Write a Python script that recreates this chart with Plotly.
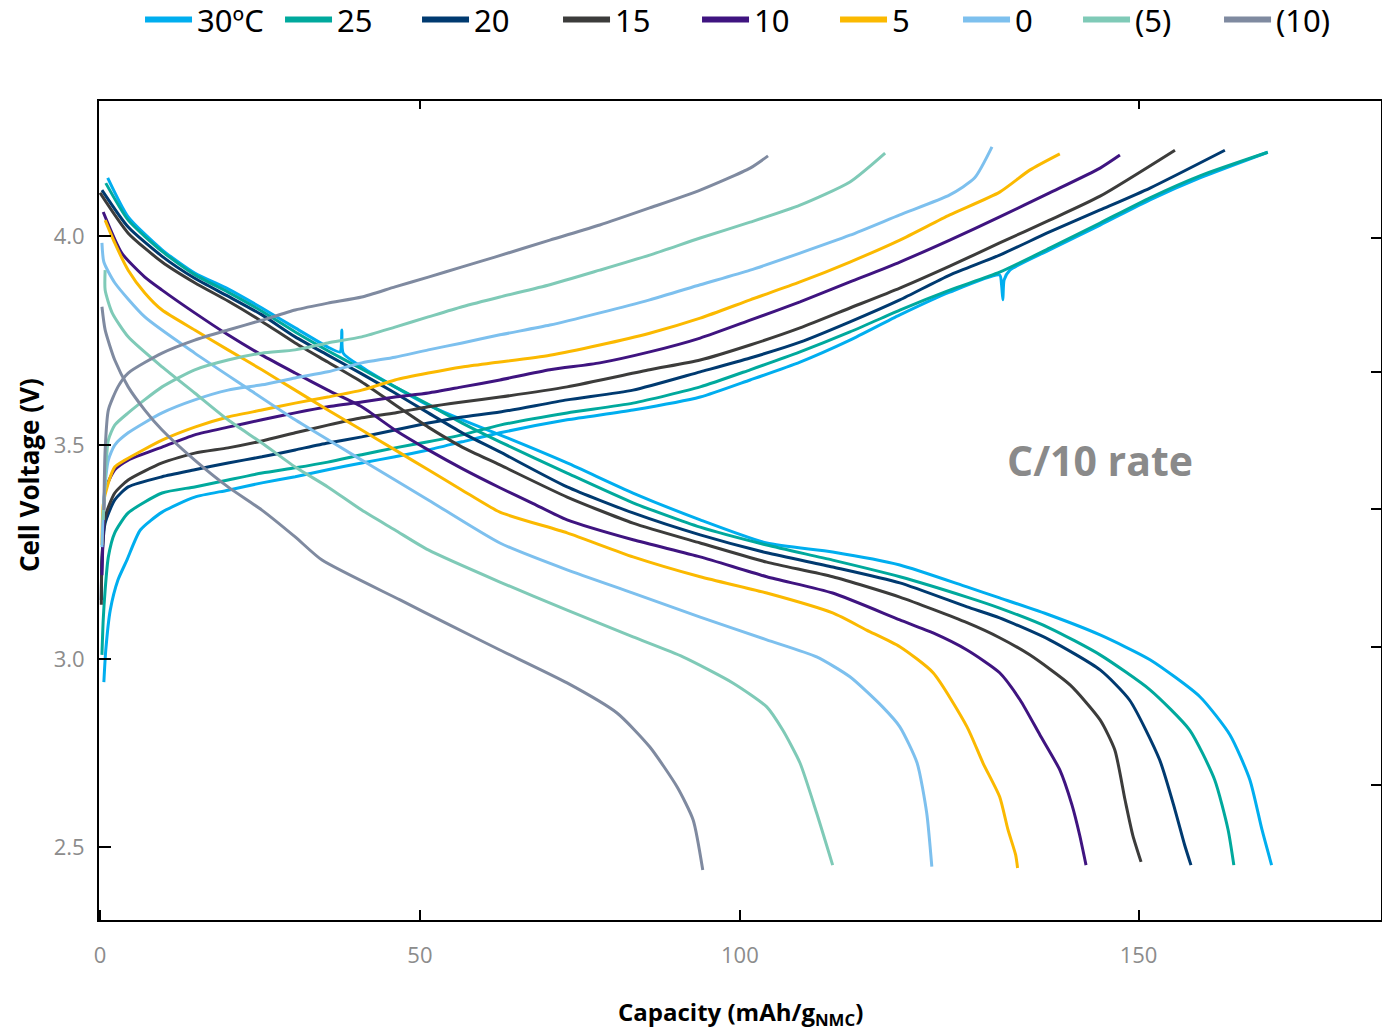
import plotly.graph_objects as go

# ---- legend labels (cell temperature) and line colours ----
TEMPS = ["30ºC", "25", "20", "15", "10", "5", "0", "(5)", "(10)"]
COLORS = ["#00AEEF", "#00A99D", "#003A70", "#3C3C3B", "#3F1480",
          "#FBB900", "#7DC0EE", "#7FCAB7", "#7F8AA0"]
# text-area width of each legend entry (px)
LEGEND_WIDTHS = [78, 75, 79, 77, 76, 61, 58, 79, 77]

# ---- discharge branches: capacity (mAh/g) and cell voltage (V) ----
D30_Q = [1.2, 4.4, 9.7, 14.8, 20.0, 25.3, 30.5, 35.6, 37.5, 37.8, 38.0, 40.9, 46.1, 51.3, 56.6, 62.5,
         73.0, 83.3, 93.8, 104.2, 114.5, 125.0, 135.5, 140.6, 148.4, 156.3, 164.1, 171.9, 176.6,
         179.7, 181.6, 183.1]
D30_V = [4.143, 4.047, 3.966, 3.909, 3.870, 3.823, 3.774, 3.727, 3.715, 3.769, 3.712, 3.678, 3.629,
         3.584, 3.548, 3.511, 3.442, 3.368, 3.302, 3.245, 3.223, 3.191, 3.137, 3.110, 3.068, 3.019,
         2.958, 2.867, 2.773, 2.663, 2.540, 2.453]

D25_Q = [0.9, 4.4, 9.7, 14.8, 20.0, 25.3, 30.5, 35.6, 40.9, 46.1, 51.3, 56.6, 62.5, 73.0, 83.3,
         93.8, 104.2, 114.5, 125.0, 135.5, 140.6, 148.4, 156.3, 164.1, 170.3, 174.2, 176.3, 177.2]
D25_V = [4.130, 4.039, 3.962, 3.905, 3.862, 3.815, 3.764, 3.718, 3.673, 3.629, 3.586, 3.540, 3.494,
         3.417, 3.344, 3.284, 3.240, 3.203, 3.162, 3.112, 3.085, 3.036, 2.970, 2.884, 2.785, 2.663,
         2.540, 2.453]

D20_Q = [0.3, 4.4, 9.7, 14.8, 20.0, 25.3, 30.5, 35.6, 40.9, 46.1, 51.3, 56.6, 62.5, 73.0, 83.3,
         93.8, 104.2, 114.5, 125.0, 135.5, 140.6, 148.4, 156.3, 160.9, 165.6, 168.0, 169.5, 170.5]
D20_V = [4.113, 4.022, 3.950, 3.896, 3.852, 3.806, 3.752, 3.707, 3.661, 3.614, 3.565, 3.516, 3.469,
         3.383, 3.319, 3.265, 3.221, 3.186, 3.147, 3.088, 3.061, 3.007, 2.933, 2.859, 2.712, 2.589,
         2.503, 2.453]

D15_Q = [0.0, 4.4, 9.7, 14.8, 20.0, 25.3, 30.5, 35.6, 40.9, 46.1, 51.3, 56.6, 62.5, 73.0, 83.3,
         93.8, 104.2, 114.5, 125.0, 135.5, 140.6, 145.3, 151.6, 156.3, 158.6, 160.2, 161.4, 162.7]
D15_V = [4.106, 4.007, 3.936, 3.885, 3.840, 3.790, 3.737, 3.690, 3.641, 3.585, 3.530, 3.481, 3.437,
         3.358, 3.294, 3.245, 3.198, 3.162, 3.112, 3.049, 3.012, 2.970, 2.896, 2.810, 2.736, 2.613,
         2.527, 2.461]

D10_Q = [0.5, 3.4, 7.0, 9.7, 14.8, 20.0, 25.3, 30.5, 35.6, 40.9, 46.1, 51.3, 56.6, 62.5, 67.7, 73.0,
         83.3, 93.8, 104.2, 114.5, 125.0, 130.2, 135.5, 140.6, 143.8, 146.9, 150.0, 151.9, 153.1, 154.1]
D10_V = [4.059, 3.958, 3.899, 3.867, 3.811, 3.757, 3.707, 3.663, 3.621, 3.580, 3.523, 3.474, 3.428,
         3.381, 3.342, 3.302, 3.253, 3.211, 3.162, 3.122, 3.056, 3.024, 2.982, 2.926, 2.859, 2.773,
         2.687, 2.601, 2.527, 2.453]

D5_Q = [0.8, 2.3, 4.4, 7.0, 9.7, 14.8, 20.0, 25.3, 30.5, 35.6, 40.9, 46.1, 51.3, 56.6, 62.5, 73.0,
        83.3, 93.8, 104.2, 114.5, 119.8, 125.0, 130.2, 135.5, 138.0, 140.6, 141.9, 143.1, 143.4]
D5_V = [4.039, 3.983, 3.916, 3.860, 3.818, 3.769, 3.720, 3.671, 3.621, 3.572, 3.523, 3.474, 3.425,
        3.375, 3.321, 3.270, 3.211, 3.162, 3.122, 3.073, 3.031, 2.990, 2.926, 2.793, 2.704, 2.621,
        2.540, 2.478, 2.446]

D0_Q = [0.3, 0.6, 2.3, 7.0, 14.8, 22.7, 30.5, 40.9, 51.3, 62.5, 73.0, 83.3, 93.8, 104.2, 112.0,
        117.2, 122.3, 125.0, 127.7, 129.2, 130.0]
D0_V = [3.983, 3.936, 3.885, 3.801, 3.712, 3.629, 3.548, 3.449, 3.351, 3.245, 3.179, 3.122, 3.063,
        3.007, 2.965, 2.916, 2.842, 2.793, 2.704, 2.581, 2.449]

DM5_Q = [0.8, 0.8, 1.9, 4.4, 9.7, 14.8, 20.0, 25.3, 30.5, 35.6, 40.9, 46.1, 51.3, 62.5, 73.0, 83.3,
         91.1, 98.9, 104.2, 106.7, 109.4, 112.0, 114.5]
DM5_V = [3.916, 3.867, 3.811, 3.752, 3.678, 3.614, 3.548, 3.491, 3.432, 3.383, 3.326, 3.277, 3.228,
         3.149, 3.080, 3.014, 2.965, 2.901, 2.842, 2.785, 2.704, 2.581, 2.453]

DM10_Q = [0.3, 0.8, 2.3, 4.4, 7.0, 9.7, 14.8, 20.0, 25.3, 30.5, 34.7, 46.9, 54.7, 62.5, 73.0, 80.8,
          85.9, 90.2, 92.7, 94.2]
DM10_V = [3.826, 3.769, 3.695, 3.629, 3.572, 3.523, 3.449, 3.383, 3.326, 3.260, 3.203, 3.105, 3.043,
          2.982, 2.901, 2.827, 2.744, 2.645, 2.564, 2.441]

# ---- charge branches: capacity (mAh/g) and cell voltage (V) ----
C30_Q = [0.6, 0.9, 1.6, 2.8, 4.2, 6.3, 9.7, 14.8, 20.0, 25.3, 30.5, 35.6, 40.9, 46.1, 51.3, 56.6,
         62.5, 73.0, 83.3, 93.8, 101.6, 109.4, 117.2, 125.0, 132.8, 140.6, 140.9, 141.1, 141.3,
         142.2, 148.4, 156.3, 164.1, 171.9, 182.5]
C30_V = [2.903, 2.982, 3.080, 3.154, 3.203, 3.277, 3.321, 3.358, 3.375, 3.393, 3.408, 3.425, 3.442,
         3.457, 3.474, 3.494, 3.516, 3.548, 3.572, 3.604, 3.646, 3.690, 3.744, 3.806, 3.862, 3.904,
         3.880, 3.843, 3.892, 3.916, 3.966, 4.027, 4.089, 4.143, 4.206]

C25_Q = [0.3, 0.5, 0.8, 1.3, 2.3, 4.4, 9.7, 14.8, 20.0, 25.3, 30.5, 35.6, 40.9, 46.1, 51.3, 56.6,
         62.5, 73.0, 83.3, 93.8, 101.6, 109.4, 117.2, 125.0, 132.8, 140.6, 148.4, 156.3, 164.1,
         171.9, 182.5]
C25_V = [2.970, 3.056, 3.130, 3.211, 3.270, 3.319, 3.368, 3.383, 3.400, 3.417, 3.430, 3.444, 3.462,
         3.479, 3.494, 3.511, 3.535, 3.565, 3.589, 3.629, 3.671, 3.715, 3.764, 3.818, 3.867, 3.911,
         3.970, 4.032, 4.094, 4.148, 4.206]

C20_Q = [0.2, 0.3, 0.8, 2.3, 4.4, 9.7, 14.8, 20.0, 25.3, 30.5, 35.6, 40.9, 46.1, 51.3, 56.6, 62.5,
         73.0, 83.3, 93.8, 101.6, 109.4, 117.2, 125.0, 132.8, 140.6, 148.4, 156.3, 164.1, 175.8]
C20_V = [3.105, 3.203, 3.294, 3.351, 3.383, 3.408, 3.425, 3.442, 3.457, 3.474, 3.491, 3.506, 3.523,
         3.540, 3.555, 3.567, 3.597, 3.621, 3.666, 3.700, 3.739, 3.789, 3.843, 3.904, 3.953, 4.010,
         4.064, 4.118, 4.211]

C15_Q = [0.2, 0.3, 0.8, 2.3, 4.4, 9.7, 14.8, 20.0, 25.3, 30.5, 35.6, 40.9, 46.1, 51.3, 56.6, 62.5,
         73.0, 85.9, 93.8, 101.6, 109.4, 117.2, 125.0, 132.8, 140.6, 148.4, 156.3, 168.0]
C15_V = [3.093, 3.203, 3.309, 3.368, 3.400, 3.442, 3.466, 3.479, 3.496, 3.516, 3.535, 3.553, 3.565,
         3.580, 3.592, 3.604, 3.629, 3.671, 3.695, 3.732, 3.774, 3.823, 3.872, 3.926, 3.983, 4.039,
         4.098, 4.211]

C10_Q = [0.3, 0.5, 0.8, 2.3, 4.4, 9.7, 14.8, 20.0, 25.3, 30.5, 35.6, 40.9, 46.1, 51.3, 56.6, 62.5,
         70.3, 78.1, 85.9, 93.8, 101.6, 109.4, 117.2, 125.0, 132.8, 140.6, 148.4, 156.3, 159.4]
C10_V = [3.166, 3.277, 3.375, 3.425, 3.449, 3.481, 3.511, 3.530, 3.548, 3.565, 3.580, 3.592, 3.604,
         3.614, 3.629, 3.646, 3.671, 3.688, 3.715, 3.749, 3.793, 3.838, 3.887, 3.936, 3.990, 4.047,
         4.106, 4.167, 4.199]

C5_Q = [0.3, 0.5, 1.3, 2.3, 3.9, 9.7, 14.8, 20.0, 25.3, 30.5, 35.6, 40.9, 46.1, 51.3, 56.6, 62.5,
        70.3, 78.1, 85.9, 93.8, 101.6, 109.4, 117.2, 125.0, 132.8, 140.6, 145.3, 150.0]
C5_V = [3.240, 3.339, 3.393, 3.432, 3.449, 3.498, 3.530, 3.555, 3.572, 3.589, 3.604, 3.621, 3.646,
        3.663, 3.678, 3.690, 3.707, 3.732, 3.761, 3.798, 3.843, 3.887, 3.936, 3.990, 4.052, 4.108,
        4.162, 4.202]

C0_Q = [0.3, 0.6, 1.3, 2.3, 4.4, 9.7, 14.8, 20.0, 25.3, 30.5, 35.6, 40.9, 46.1, 51.3, 56.6, 62.5,
        70.3, 78.1, 85.9, 93.8, 101.6, 109.4, 117.2, 125.0, 132.8, 136.7, 139.4]
C0_V = [3.235, 3.351, 3.449, 3.486, 3.516, 3.565, 3.597, 3.621, 3.634, 3.651, 3.666, 3.688, 3.702,
        3.720, 3.737, 3.757, 3.781, 3.811, 3.843, 3.880, 3.916, 3.958, 4.002, 4.052, 4.101, 4.143,
        4.219]

CM5_Q = [0.5, 0.8, 1.3, 2.3, 4.4, 9.7, 14.8, 20.0, 25.3, 30.5, 35.6, 40.9, 46.1, 51.3, 56.6, 62.5,
         70.3, 78.1, 85.9, 93.8, 101.6, 109.4, 117.2, 122.7]
CM5_V = [3.302, 3.400, 3.498, 3.535, 3.565, 3.629, 3.671, 3.695, 3.712, 3.720, 3.737, 3.752, 3.776,
         3.801, 3.826, 3.850, 3.880, 3.916, 3.953, 3.995, 4.034, 4.076, 4.133, 4.204]

CM10_Q = [0.6, 0.8, 1.3, 2.8, 4.4, 9.7, 14.8, 20.0, 25.3, 30.5, 35.6, 40.9, 46.1, 51.3, 56.6, 61.7,
          70.3, 78.1, 85.9, 93.8, 101.6, 104.4]
CM10_V = [3.326, 3.474, 3.572, 3.629, 3.663, 3.712, 3.744, 3.769, 3.793, 3.818, 3.835, 3.850, 3.875,
          3.899, 3.924, 3.948, 3.990, 4.027, 4.069, 4.113, 4.167, 4.197]

DISCHARGE = [(D30_Q, D30_V), (D25_Q, D25_V), (D20_Q, D20_V), (D15_Q, D15_V), (D10_Q, D10_V),
             (D5_Q, D5_V), (D0_Q, D0_V), (DM5_Q, DM5_V), (DM10_Q, DM10_V)]
CHARGE = [(C30_Q, C30_V), (C25_Q, C25_V), (C20_Q, C20_V), (C15_Q, C15_V), (C10_Q, C10_V),
          (C5_Q, C5_V), (C0_Q, C0_V), (CM5_Q, CM5_V), (CM10_Q, CM10_V)]

# ---- axis ticks ----
X_TICK_POS = [0, 50, 100, 162.3]
X_TICK_TEXT = ["0", "50", "100", "150"]
Y_TICK_POS = [4.0, 3.486, 2.960, 2.498]
Y_TICK_TEXT = ["4.0", "3.5", "3.0", "2.5"]
TOP_TICK_POS = [50, 162.3]
RIGHT_TICK_POS = [3.995, 3.666, 3.329, 2.990, 2.651]

X_RANGE = [-0.16, 200.2]
Y_RANGE = [2.318, 4.332]

fig = go.Figure()

# legend-only entries with a heavier stroke than the curves
for name, col, lw in zip(TEMPS, COLORS, LEGEND_WIDTHS):
    fig.add_trace(go.Scatter(x=[None], y=[None], mode="lines", name=name,
                             line=dict(color=col, width=6), legendgroup=name, legendwidth=lw,
                             showlegend=True, hoverinfo="skip"))

for name, col, (dq, dv), (cq, cv) in zip(TEMPS, COLORS, DISCHARGE, CHARGE):
    for q, v in ((dq, dv), (cq, cv)):
        fig.add_trace(go.Scatter(x=q, y=v, mode="lines", legendgroup=name, showlegend=False,
                                 line=dict(color=col, width=3, shape="spline", smoothing=0.6)))

# carrier trace for the mirrored top / right tick axes
fig.add_trace(go.Scatter(x=[None], y=[None], xaxis="x2", yaxis="y2", showlegend=False,
                         hoverinfo="skip"))

tick_font = dict(family="Open Sans, Noto Sans, sans-serif", size=22, color="#8C8C8C")

fig.update_layout(
    width=1382, height=1033,
    margin=dict(l=99, r=1, t=101, b=113, autoexpand=False),
    plot_bgcolor="white", paper_bgcolor="white",
    font=dict(family="Noto Sans, Open Sans, sans-serif", color="black"),
    xaxis=dict(range=X_RANGE, showgrid=False, zeroline=False, showline=True, linecolor="black",
               linewidth=2, mirror=True, ticks="inside", ticklen=10, tickwidth=2,
               tickcolor="black", tickvals=X_TICK_POS, ticktext=X_TICK_TEXT, tickfont=tick_font,
               ticklabelstandoff=15),
    yaxis=dict(range=Y_RANGE, showgrid=False, zeroline=False, showline=True, linecolor="black",
               linewidth=2, mirror=True, ticks="inside", ticklen=12, tickwidth=2,
               tickcolor="black", tickvals=Y_TICK_POS, ticktext=Y_TICK_TEXT, tickfont=tick_font,
               ticklabelstandoff=8),
    xaxis2=dict(range=X_RANGE, overlaying="x", side="top", anchor="y2", showgrid=False,
                zeroline=False, showline=False, ticks="inside", ticklen=8, tickwidth=2,
                tickcolor="black", tickvals=TOP_TICK_POS, showticklabels=False),
    yaxis2=dict(range=Y_RANGE, overlaying="y", side="right", anchor="x2", showgrid=False,
                zeroline=False, showline=False, ticks="inside", ticklen=10, tickwidth=2,
                tickcolor="black", tickvals=RIGHT_TICK_POS, showticklabels=False),
    showlegend=True,
    legend=dict(orientation="h", x=0.032, xanchor="left", y=1.099, yanchor="middle",
                font=dict(family="Noto Sans, Open Sans, sans-serif", size=31, color="black"),
                entrywidthmode="pixels", itemwidth=47,
                bgcolor="rgba(0,0,0,0)", traceorder="normal"),
    annotations=[
        dict(text="<b>C/10 rate</b>", x=156.25, y=3.449, xref="x", yref="y", showarrow=False,
             font=dict(family="Open Sans, Noto Sans, sans-serif", size=41, color="#8A8A8A")),
        dict(text="<b>Cell Voltage (V)</b>", x=-0.054, y=0.543, xref="paper", yref="paper",
             textangle=-90, showarrow=False, xanchor="center", yanchor="middle",
             font=dict(family="Open Sans, Noto Sans, sans-serif", size=26, color="black")),
        dict(text="<b>Capacity (mAh/g<sub>NMC</sub>)</b>", x=0.5, y=-0.1135, xref="paper",
             yref="paper", showarrow=False, xanchor="center", yanchor="middle",
             font=dict(family="Open Sans, Noto Sans, sans-serif", size=24, color="black")),
    ],
)

fig.write_html("out.html")
